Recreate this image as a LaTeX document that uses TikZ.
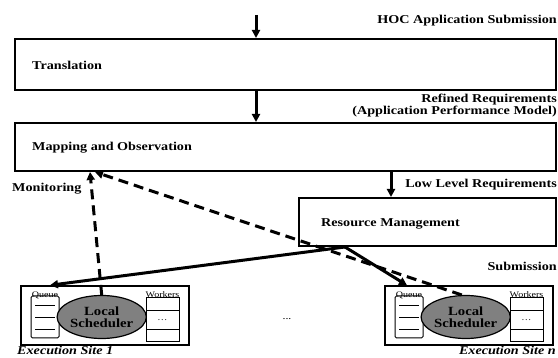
\documentclass[tikz,border=0pt]{standalone}
\usepackage{fontspec}
\setmainfont{Liberation Serif}[FakeStretch=1.18]
\usetikzlibrary{arrows.meta,shapes.geometric}
\tikzset{
  bigbox/.style={draw, line width=2pt, inner sep=0pt},
  sitebox/.style={draw, line width=1.5pt, inner sep=0pt, minimum width=168pt, minimum height=59pt},
  lbl/.style={inner sep=0pt, font=\fontsize{12}{13}\selectfont\bfseries},
  sitelbl/.style={inner sep=0pt, font=\fontsize{12}{13}\selectfont\bfseries\itshape},
  tiny/.style={inner sep=0pt, font=\fontsize{8.5}{9}\selectfont},
  arr/.style={line width=3pt, -{Triangle[length=8pt,width=8pt]}},
  darr/.style={line width=3pt, dash pattern=on 10pt off 6pt, -{Triangle[length=8pt,width=8pt]}},
  sched/.style={draw, line width=1.2pt, fill=black!50, ellipse, minimum width=77pt, minimum height=43pt, inner sep=0pt, align=center, font=\fontsize{12.5}{12.5}\selectfont\bfseries},
  thin/.style={line width=1pt},
  site/.pic={
    \node[sitebox] (-box) at (84,29.5) {};
    \node[draw, thin, rounded corners=1.5pt, minimum width=28pt, minimum height=42pt, inner sep=0pt] (-q) at (24,31) {};
    \draw[thin] (14,20) -- (34,20) (14,32) -- (34,32) (14,44) -- (34,44);
    \node[tiny] (-ql) at (24,9) {Queue};
    \node[sched] (-ls) at (80.7,31) {Local\\[-1pt]Scheduler};
    \node[draw, thin, minimum width=33pt, minimum height=44pt, inner sep=0pt] (-w) at (141.5,34) {};
    \draw[thin] (125,25) -- (158,25) (125,44) -- (158,44);
    \node[tiny] (-wl) at (141.5,9) {Workers};
    \node[tiny] (-wd) at (141.5,34) {\dots};
  }
}
\begin{document}
\begin{tikzpicture}[x=1pt, y=-1pt]
\useasboundingbox (0,0) rectangle (558,358);
% main boxes
\node[bigbox, minimum width=541pt, minimum height=51pt] (trans) at (285.5,64.5) {};
\node[lbl, anchor=west] (transt) at (32,65) {Translation};
\node[bigbox, minimum width=541pt, minimum height=48pt] (map) at (285.5,147) {};
\node[lbl, anchor=west] (mapt) at (32,148) {Mapping and Observation};
\node[bigbox, minimum width=257pt, minimum height=48pt] (rm) at (427.5,222) {};
\node[lbl, anchor=west] (rmt) at (321,224) {Resource Management};
% sites
\pic (s1) at (21,286) {site};
\pic (sn) at (385,286) {site};
\node[sitelbl, anchor=west] (s1l) at (17,350.5) {Execution Site 1};
\node[sitelbl, anchor=east] (snl) at (556,350.5) {Execution Site n};
\node[inner sep=0pt, font=\fontsize{10}{10}\selectfont] (dots) at (287,319) {...};
% labels
\node[lbl, anchor=east] (hoc) at (557,21) {HOC Application Submission};
\node[lbl, anchor=east] (ref1) at (557,100) {Refined Requirements};
\node[lbl, anchor=east] (ref2) at (557,112) {(Application Performance Model)};
\node[lbl, anchor=east] (llr) at (557,185) {Low Level Requirements};
\node[lbl, anchor=west] (mon) at (12,189) {Monitoring};
\node[lbl, anchor=east] (sub) at (557,266) {Submission};
% coordinates
\coordinate (in) at (256,15);
\coordinate (xr) at (391,0);
\coordinate (xo) at (345,0);
\coordinate (x1) at (50,0);
\coordinate (x2) at (407,0);
\coordinate (xm1) at (90,0);
\coordinate (xm2) at (95,0);
% connectors
\draw[arr] (in) -- (in |- trans.north);
\draw[arr] (trans.south -| in) -- (map.north -| in);
\draw[arr] (map.south -| xr) -- (rm.north -| xr);
\draw[arr] (rm.south -| xo) -- (s1-box.north -| x1);
\draw[arr] (rm.south -| xo) -- (sn-box.north -| x2);
\draw[darr] (s1-ls.north) -- (map.south -| xm1);
\draw[darr] (sn-ls.100) -- (map.south -| xm2);
\end{tikzpicture}
\end{document}
